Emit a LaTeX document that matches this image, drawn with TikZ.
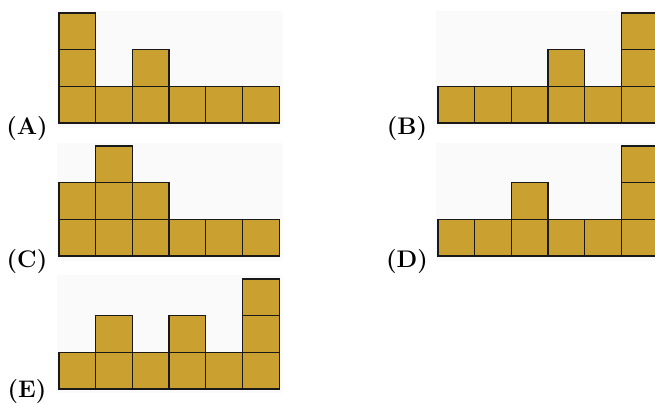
\documentclass[tikz,border=0pt]{standalone}
\usepackage{xcolor}
\usepackage{tikz}
\usetikzlibrary{positioning}

\definecolor{brick}{RGB}{202,160,48}
\definecolor{panelbg}{RGB}{250,250,250}

% one panel: left x, bottom y, column heights
\newcommand{\blockrow}[3]{%
  \foreach \h [count=\i from 0] in {#3} {
    \foreach \j in {1,...,\h} {
      \draw[cell] ({#1+\i*36.7},{#2-(\j-1)*36.7}) rectangle +(36.7,-36.7);
    }
  }
}

\begin{document}
\begin{tikzpicture}[
  x=0.5pt, y=-0.5pt,
  font=\large\bfseries,
  cell/.style={draw=black!90,fill=brick,line width=0.65pt},
  bg/.style={fill=panelbg,draw=none},
  lab/.style={inner sep=0pt}
]
\clip (0,0) rectangle (655,403);
\fill[white] (0,0) rectangle (655,403);

% panel backgrounds
\fill[bg] (57,11) rectangle (283,128);
\fill[bg] (436,11) rectangle (655,128);
\fill[bg] (57,143) rectangle (283,261);
\fill[bg] (436,143) rectangle (655,261);
\fill[bg] (57,275) rectangle (283,393);

% stacks
\blockrow{59}{123}{3,1,2,1,1,1}
\blockrow{438}{123}{1,1,1,2,1,3}
\blockrow{59}{256}{2,3,2,1,1,1}
\blockrow{438}{256}{1,1,2,1,1,3}
\blockrow{59}{389}{1,2,1,2,1,3}

% labels
\node[lab] (labA) at (27,129) {(A)};
\node[lab] (labB) at (407,129) {(B)};
\node[lab] (labC) at (27,262) {(C)};
\node[lab] (labD) at (407,262) {(D)};
\node[lab] (labE) at (27,392) {(E)};
\end{tikzpicture}
\end{document}
